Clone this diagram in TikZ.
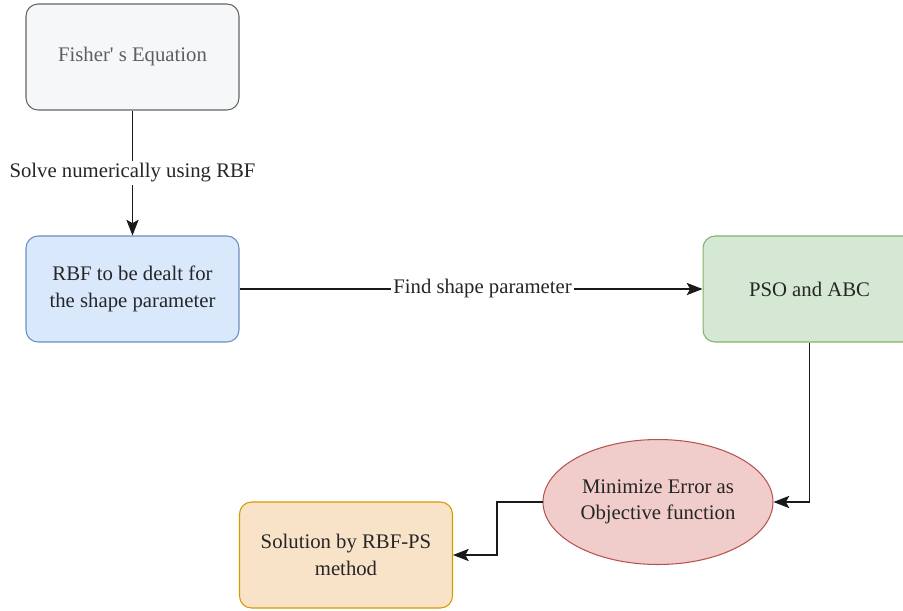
\documentclass[tikz,border=0pt]{standalone}
\usepackage{fontspec}
\setmainfont{Liberation Serif}
\definecolor{GreyFill}{HTML}{F6F7F8}
\definecolor{GreyLine}{HTML}{666666}
\definecolor{GreyText}{HTML}{5E5E5E}
\definecolor{BlueFill}{HTML}{DAE8FC}
\definecolor{BlueLine}{HTML}{6C8EBF}
\definecolor{GreenFill}{HTML}{D5E8D4}
\definecolor{GreenLine}{HTML}{82B366}
\definecolor{RedFill}{HTML}{F0CDCA}
\definecolor{RedLine}{HTML}{B85450}
\definecolor{OrangeFill}{HTML}{F8E3C9}
\definecolor{OrangeLine}{HTML}{D79B00}
\definecolor{InkLine}{HTML}{1A1A1A}
\usetikzlibrary{positioning,shapes.geometric,arrows.meta}

\begin{document}
\begin{tikzpicture}[x=0.02cm, y=-0.02cm,
    every node/.style={font=\fontsize{11.8}{15}\selectfont, text=black!85},
    stagebox/.style={draw, rounded corners=0.24cm, line width=0.6pt,
      minimum width=4.26cm, minimum height=2.12cm, align=center, inner sep=2pt},
    goalshape/.style={ellipse, draw, line width=0.6pt, inner sep=0pt,
      minimum width=4.6cm, minimum height=2.5cm, align=center},
    flow/.style={draw=InkLine, line width=0.6pt, -{Stealth[length=9pt, width=7pt, inset=2pt]}},
    flowlabel/.style={fill=white, inner sep=1.5pt}]
  \clip (0,0) rectangle (903,610);
  \fill[white] (0,0) rectangle (903,610);
  %% boxes
  \node[stagebox, fill=GreyFill, draw=GreyLine, text=GreyText] (fisher) at (132.5,57) {Fisher\textquotesingle\ s Equation};
  \node[stagebox, fill=BlueFill, draw=BlueLine] (rbf) at (132.5,289) {RBF to be dealt for\\the shape parameter};
  \node[stagebox, fill=GreenFill, draw=GreenLine] (pso) at (809.5,289) {PSO and ABC};
  \node[goalshape, fill=RedFill, draw=RedLine] (error) at (658,502) {Minimize Error as\\Objective function};
  \node[stagebox, fill=OrangeFill, draw=OrangeLine] (sol) at (346,555) {Solution by RBF-PS\\method};
  %% connectors
  \draw[flow] (fisher) -- node[flowlabel] {Solve numerically using RBF} (rbf);
  \draw[flow] (rbf) -- node[flowlabel, pos=0.525] {Find shape parameter} (pso);
  \draw[flow] (pso.south) |- (error.east);
  \coordinate (bend) at (497,502);
  \draw[flow] (error.west) -- (bend) |- (sol.east);
\end{tikzpicture}
\end{document}
